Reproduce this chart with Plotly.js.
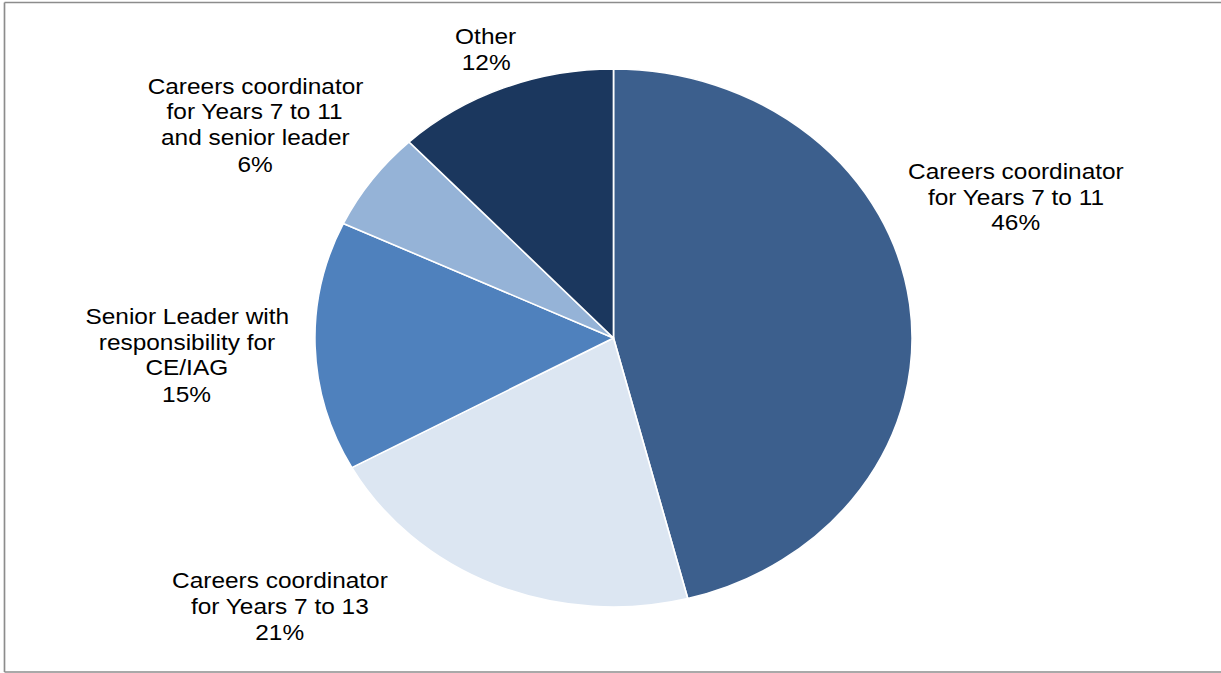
<!DOCTYPE html>
<html>
<head>
<meta charset="utf-8">
<script src="https://cdn.plot.ly/plotly-3.0.1.min.js"></script>
<style>
  html, body { margin: 0; padding: 0; background: #ffffff; overflow: hidden; }
  #chart { width: 1100px; height: 673px; transform: scaleX(1.11); transform-origin: 0 0; }
</style>
</head>
<body>
<div id="chart"></div>
<script>
// Data (clockwise from 12 o'clock)
const categories = [
  "Careers coordinator<br>for Years 7 to 11",
  "Careers coordinator<br>for Years 7 to 13",
  "Senior Leader with<br>responsibility for<br>CE/IAG",
  "Careers coordinator<br>for Years 7 to 11<br>and senior leader",
  "Other"
];
const values = [46, 21, 15, 6, 12];
const sliceColors = ["#3C5F8D", "#DCE6F2", "#4F81BD", "#95B3D7", "#1B375E"];

// Label placement (final picture pixels: centre x, centre y)
const labelPos = [[1016, 197], [280, 606], [187, 355], [255, 125], [486, 49]];

const W = 1100, H = 673, FINAL_W = 1221, LINE_H = 26;

const annotations = [];
categories.forEach(function (cat, i) {
  const lines = cat.split("<br>").concat([values[i] + "%"]);
  const n = lines.length;
  lines.forEach(function (ln, j) {
    const yPx = labelPos[i][1] + (j - (n - 1) / 2) * LINE_H;
    annotations.push({
      text: ln,
      xref: "paper", yref: "paper",
      x: labelPos[i][0] / FINAL_W,
      y: 1 - yPx / H,
      xanchor: "center", yanchor: "middle",
      showarrow: false,
      font: { family: "Liberation Sans, Arial, sans-serif", size: 22, color: "#000000" }
    });
  });
});

const trace = {
  type: "pie",
  labels: categories,
  values: values,
  sort: false,
  direction: "clockwise",
  rotation: 0,
  textinfo: "none",
  hoverinfo: "none",
  showlegend: false,
  marker: { colors: sliceColors, line: { color: "#ffffff", width: 1.5 } },
  domain: { x: [0.2579, 0.7470], y: [0.0981, 0.8975] }
};

const bx0 = 4.5 / FINAL_W, by0 = 1 - 672 / H, by1 = 1 - 2.5 / H;
const borderLine = { color: "#8c8c8c", width: 1.5 };
const layout = {
  width: W, height: H,
  margin: { l: 0, r: 0, t: 0, b: 0 },
  paper_bgcolor: "#ffffff",
  showlegend: false,
  annotations: annotations,
  shapes: [
    { type: "line", xref: "paper", yref: "paper", x0: bx0, x1: bx0, y0: by0, y1: by1, line: borderLine },
    { type: "line", xref: "paper", yref: "paper", x0: bx0, x1: 1, y0: by1, y1: by1, line: borderLine },
    { type: "line", xref: "paper", yref: "paper", x0: bx0, x1: 1, y0: by0, y1: by0, line: borderLine }
  ]
};

Plotly.newPlot("chart", [trace], layout, { displayModeBar: false, staticPlot: true });
</script>
</body>
</html>
